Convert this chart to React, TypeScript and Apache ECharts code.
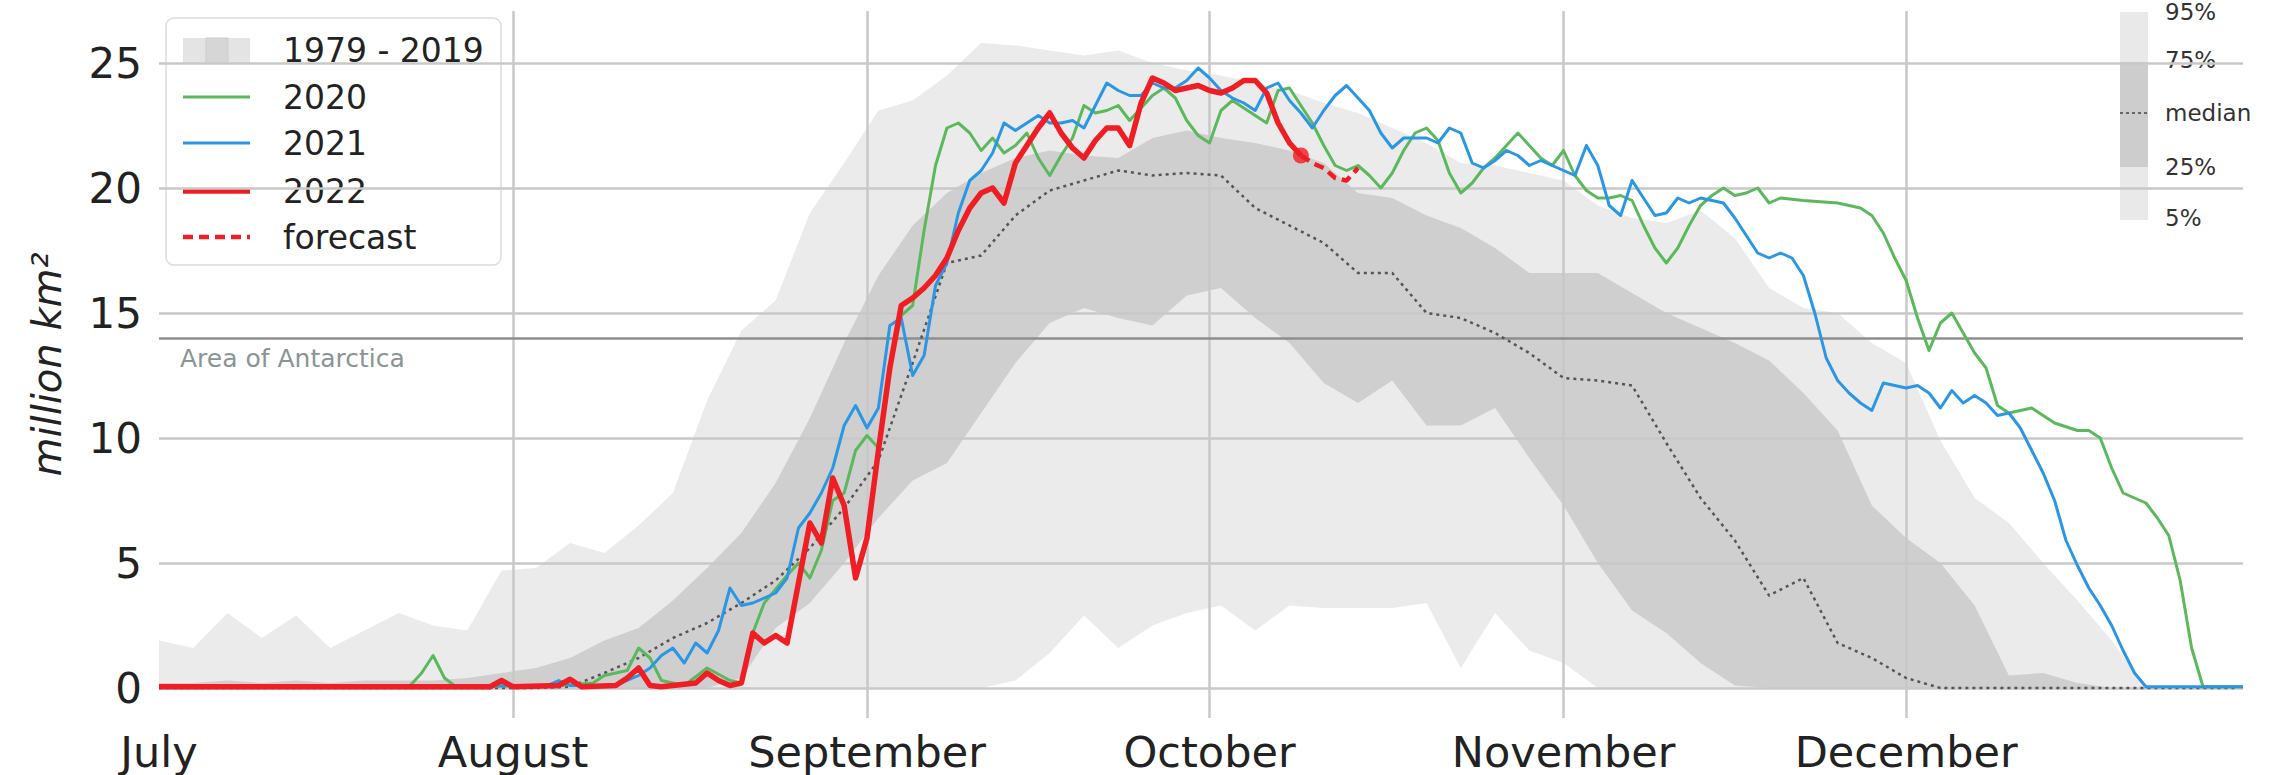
import React, { useEffect, useRef } from 'react';
import * as echarts from 'echarts';

const FONT = 'DejaVu Sans';

// ---- axis / labels ----
const monthNames = ['July', 'August', 'September', 'October', 'November', 'December'];
const monthStartDays = [0, 31, 62, 92, 123, 153];
const antarcticaArea = 14;
const legendLabels = ['1979 - 2019', '2020', '2021', '2022', 'forecast'];
const percentileLabels = ['95%', '75%', 'median', '25%', '5%'];

// ---- 1979-2019 climatology (day 0 = 1 July) ----
const bandDays = [0, 3, 6, 9, 12, 15, 18, 21, 24, 27, 30, 33, 36, 39, 42, 45, 48, 51, 54, 57, 60, 63, 66, 69, 72, 75, 78, 81, 84, 87, 90, 93, 96, 99, 102, 105, 108, 111, 114, 117, 120, 123, 126, 129, 132, 135, 138, 141, 144, 147, 150, 153, 156, 159, 162, 165, 168, 171, 174, 177, 180, 182];
const p95 = [1.9, 1.6, 3.0, 2.0, 2.9, 1.6, 2.3, 3.0, 2.5, 2.3,
  4.7, 4.8, 5.8, 5.4, 6.5, 7.8, 11.5, 14.3, 15.5, 19.0,
  21.0, 23.1, 23.5, 24.5, 25.8, 25.7, 25.5, 25.3, 25.5, 25.0,
  24.7, 24.5, 24.2, 23.9, 23.4, 23.0, 22.4, 21.8, 21.0, 20.9,
  20.6, 20.3, 19.3, 18.8, 18.6, 19.1, 18.0, 16.0, 15.2, 15.0,
  13.8, 13.0, 9.9, 7.6, 6.6, 5.0, 3.5, 1.9, 0, 0,
  0, 0];
const p75 = [0.2, 0.2, 0.3, 0.2, 0.3, 0.2, 0.3, 0.3, 0.3, 0.4,
  0.6, 0.8, 1.2, 1.9, 2.4, 3.5, 4.8, 6.2, 8.2, 10.8,
  13.8, 16.5, 18.5, 19.8, 20.6, 21.2, 21.5, 21.3, 21.2, 22.0,
  22.3, 22.0, 21.8, 21.5, 21.0, 19.8, 19.6, 18.9, 18.4, 17.6,
  16.6, 16.6, 16.6, 15.8, 15.0, 14.4, 13.8, 13.1, 11.8, 10.3,
  7.3, 6.0, 5.0, 3.3, 0.5, 0.6, 0.2, 0, 0, 0,
  0, 0];
const p25 = [0, 0, 0, 0, 0, 0, 0, 0, 0, 0,
  0, 0, 0, 0, 0, 0, 0, 0.4, 2.4, 3.4,
  5.0, 6.8, 8.3, 9.0, 11.0, 13.0, 14.6, 15.2, 14.8, 14.5,
  15.7, 16.0, 14.8, 13.8, 12.2, 11.4, 12.3, 10.5, 10.5, 11.2,
  9.2, 7.3, 5.0, 3.1, 2.2, 1.0, 0.1, 0, 0, 0,
  0, 0, 0, 0, 0, 0, 0, 0, 0, 0,
  0, 0];
const p5 = [0, 0, 0, 0, 0, 0, 0, 0, 0, 0,
  0, 0, 0, 0, 0, 0, 0, 0, 0, 0,
  0, 0, 0, 0, 0, 0.3, 1.4, 2.9, 1.6, 2.5,
  3.0, 3.3, 2.3, 3.3, 3.2, 3.2, 3.2, 3.4, 0.8, 3.0,
  1.5, 1.0, 0, 0, 0, 0, 0, 0, 0, 0,
  0, 0, 0, 0, 0, 0, 0, 0, 0, 0,
  0, 0];
const median = [0, 0, 0, 0, 0, 0, 0, 0, 0, 0,
  0, 0, 0.05, 0.6, 1.2, 2.0, 2.6, 3.4, 4.3, 5.6,
  7.2, 9.1, 13.0, 17.0, 17.3, 18.9, 19.9, 20.3, 20.7, 20.5,
  20.6, 20.5, 19.2, 18.5, 17.8, 16.6, 16.6, 15.0, 14.8, 14.2,
  13.4, 12.4, 12.3, 12.1, 9.8, 7.6, 5.9, 3.7, 4.4, 1.8,
  1.2, 0.4, 0, 0, 0, 0, 0, 0, 0, 0,
  0, 0];

// ---- 2020 ----
const days2020 = [0, 10, 20, 22, 23, 24, 25, 26, 35, 38,
  39, 41, 42, 43, 44, 46, 48, 50, 51, 52,
  53, 55, 56, 57, 58, 59, 60, 61, 62, 63,
  64, 65, 66, 67, 68, 69, 70, 71, 72, 73,
  74, 75, 76, 77, 78, 79, 80, 81, 82, 83,
  84, 85, 86, 87, 88, 89, 90, 91, 92, 93,
  94, 95, 96, 97, 98, 99, 100, 101, 102, 103,
  104, 105, 106, 107, 108, 109, 110, 111, 112, 113,
  114, 115, 116, 117, 118, 119, 120, 121, 122, 123,
  124, 125, 126, 127, 128, 129, 130, 131, 132, 133,
  134, 135, 136, 137, 138, 139, 140, 141, 142,
  144, 147, 149, 150, 151, 152, 153, 154, 155, 156,
  157, 158, 159, 160, 161, 162, 164, 166, 168, 169,
  170, 171, 172, 174, 175, 176, 177, 178, 179, 182.5];
const ext2020 = [0.05, 0.05, 0.05, 0.1, 0.6, 1.3, 0.4, 0.05, 0.1, 0.2,
  0.5, 0.7, 1.6, 1.2, 0.3, 0.1, 0.8, 0.3, 0.2, 2.2,
  3.4, 4.5, 5.0, 4.4, 5.5, 7.5, 7.8, 9.5, 10.1, 9.6,
  12.8, 14.9, 15.3, 18.3, 20.9, 22.4, 22.6, 22.2, 21.5, 22.0,
  21.4, 21.7, 22.2, 21.2, 20.5, 21.3, 22.0, 23.3, 23.0, 23.1,
  23.3, 22.7, 23.2, 23.7, 24.0, 23.6, 22.7, 22.1, 21.8, 23.1,
  23.5, 23.2, 22.9, 22.6, 23.9, 24.0, 23.3, 22.6, 21.7, 20.9,
  20.7, 20.9, 20.5, 20.0, 20.6, 21.5, 22.2, 22.4, 21.9, 20.6,
  19.8, 20.2, 20.8, 21.2, 21.7, 22.2, 21.7, 21.2, 20.9, 21.5,
  20.5, 19.9, 19.6, 19.6, 19.7, 19.5, 18.5, 17.6, 17.0, 17.6,
  18.5, 19.3, 19.7, 20.0, 19.7, 19.8, 20.0, 19.4, 19.6,
  19.5, 19.4, 19.2, 18.9, 18.2, 17.2, 16.3, 14.8, 13.5, 14.6,
  15.0, 14.2, 13.4, 12.8, 11.3, 11.0, 11.2, 10.6, 10.3, 10.3,
  10.0, 8.8, 7.8, 7.4, 6.8, 6.1, 4.3, 1.6, 0.05, 0.05];

// ---- 2021 ----
const days2021 = [0, 20, 34, 35, 36, 40, 42, 43, 44, 45,
  46, 47, 48, 49, 50, 51, 52, 53, 54, 55,
  56, 57, 58, 59, 60, 61, 62, 63, 64, 65,
  66, 67, 68, 69, 70, 71, 72, 73, 74, 75,
  76, 77, 78, 79, 80, 81, 82, 83, 84, 85,
  86, 87, 88, 89, 90, 91, 92, 93, 94, 95,
  96, 97, 98, 99, 100, 101, 102, 103, 104, 105,
  106, 107, 108, 109, 110, 111, 112, 113, 114, 115,
  116, 117, 118, 119, 120, 121, 122, 123, 124, 125,
  126, 127, 128, 129, 130, 131, 132, 133, 134, 135,
  136, 137, 138, 139, 140, 141, 142, 143, 144, 145,
  146, 147, 148, 149, 150, 151, 152, 153, 154, 155,
  156, 157, 158, 159, 160, 161, 162, 163, 164, 165,
  166, 167, 168, 169, 170, 171, 172, 173, 174, 182.5];
const ext2021 = [0.05, 0.05, 0.1, 0.3, 0.1, 0.1, 0.5, 0.8, 1.3, 1.6,
  1.0, 1.8, 1.4, 2.3, 4.0, 3.3, 3.4, 3.6, 3.8, 4.4,
  6.4, 7.0, 7.8, 8.8, 10.5, 11.3, 10.4, 11.2, 14.5, 14.8,
  12.5, 13.3, 16.1, 17.0, 19.0, 20.3, 20.7, 21.4, 22.6, 22.3,
  22.6, 22.9, 22.6, 22.6, 22.7, 22.4, 23.3, 24.2, 23.9, 23.7,
  23.7, 24.2, 24.0, 24.0, 24.3, 24.8, 24.4, 23.9, 23.6, 23.4,
  23.1, 24.0, 24.2, 23.5, 23.0, 22.4, 23.1, 23.7, 24.1, 23.6,
  23.1, 22.2, 21.6, 22.0, 22.0, 22.0, 21.8, 22.4, 22.2, 21.0,
  20.8, 21.1, 21.5, 21.3, 20.9, 21.1, 20.9, 20.7, 20.5, 21.7,
  20.9, 19.3, 18.9, 20.3, 19.6, 18.9, 19.0, 19.6, 19.4, 19.6,
  19.5, 19.4, 18.8, 18.1, 17.4, 17.2, 17.4, 17.2, 16.5, 15.0,
  13.2, 12.3, 11.8, 11.4, 11.1, 12.2, 12.1, 12.0, 12.1, 11.8,
  11.2, 11.9, 11.4, 11.7, 11.4, 10.9, 11.0, 10.4, 9.5, 8.6,
  7.5, 5.9, 4.9, 4.0, 3.3, 2.5, 1.5, 0.6, 0.05, 0.05];

// ---- 2022 ----
const days2022 = [0, 20, 29, 30, 31, 35, 36, 37, 40, 41,
  42, 43, 44, 47, 48, 49, 50, 51, 52, 53,
  54, 55, 56, 57, 58, 59, 60, 61, 62, 63,
  64, 65, 66, 67, 68, 69, 70, 71, 72, 73,
  74, 75, 76, 77, 78, 79, 80, 81, 82, 83,
  84, 85, 86, 87, 88, 89, 90, 91, 92, 93,
  94, 95, 96, 97, 98, 99, 100];
const ext2022 = [0.05, 0.05, 0.05, 0.3, 0.05, 0.1, 0.35, 0.05, 0.1, 0.4,
  0.8, 0.1, 0.05, 0.2, 0.6, 0.3, 0.1, 0.2, 2.2, 1.8,
  2.1, 1.8, 4.2, 6.6, 5.8, 8.4, 7.3, 4.4, 6.0, 9.5,
  12.8, 15.3, 15.6, 16.0, 16.5, 17.2, 18.3, 19.2, 19.8, 20.0,
  19.4, 21.0, 21.7, 22.4, 23.0, 22.2, 21.6, 21.2, 21.9, 22.4,
  22.4, 21.7, 23.4, 24.4, 24.2, 23.9, 24.0, 24.1, 23.9, 23.8,
  24.0, 24.3, 24.3, 23.8, 22.6, 21.8, 21.3];

// ---- forecast ----
const forecastDays = [100, 101, 102, 103, 104, 105];
const forecastVals = [21.3, 21.0, 20.8, 20.4, 20.3, 20.8];

const C_GREEN = '#5cb85c';
const C_BLUE = '#2b96e3';
const C_RED = '#ee1e24';
const C_LIGHT = '#ebebeb';
const C_DARK = '#cfcfcf';
const C_GRID = '#c8c8c8';

const zip = (xs: number[], ys: number[]) => xs.map((x, i) => [x, ys[i]]);

function bandSeries(name: string, vals: number[], color: string, extra: any = {}) {
  return {
    name,
    type: 'line',
    data: zip(bandDays, vals),
    showSymbol: false,
    symbol: 'none',
    silent: true,
    z: 0,
    lineStyle: { width: 0, opacity: 0 },
    areaStyle: { color, opacity: 1 },
    emphasis: { disabled: true },
    ...extra,
  };
}

function lineSeries(name: string, xs: number[], ys: number[], color: string, width: number, z: number, type: any = 'solid') {
  return {
    name,
    type: 'line',
    data: zip(xs, ys),
    showSymbol: false,
    symbol: 'none',
    silent: true,
    z,
    lineStyle: { color, width, type, cap: 'butt', join: 'round' },
    emphasis: { disabled: true },
  };
}

export default function App() {
  const ref = useRef<HTMLDivElement>(null);
  useEffect(() => {
    const chart = echarts.init(ref.current!, null, { renderer: 'svg' });

    const markLineData: any[] = monthStartDays.map((d, i) => ({
      xAxis: d,
      name: monthNames[i],
      lineStyle: i === 0 ? { color: 'rgba(0,0,0,0)' } : { color: C_GRID, width: 2.5, type: 'solid' },
    }));
    markLineData.push({
      yAxis: antarcticaArea,
      name: 'Area of Antarctica',
      lineStyle: { color: '#8e8e8e', width: 2.5, type: 'solid' },
      label: {
        show: true,
        position: 'insideStartBottom',
        formatter: '{b}',
        fontSize: 25,
        fontFamily: FONT,
        color: '#8a9494',
        distance: [21, 8],
      },
    });

    const legendX1 = 183, legendX2 = 250, legendTextX = 283;
    const legendRowsY = [50, 97, 143, 191, 237];
    const pctLabelY = [12, 60, 113, 167, 218];

    const graphics: any[] = [
      { type: 'rect', z: 0, silent: true, shape: { x: 166, y: 18, width: 335, height: 247, r: 8 }, style: { fill: 'rgba(255,255,255,0.8)', stroke: '#dcdcdc', lineWidth: 1.5 } },
      { type: 'rect', z: 0, silent: true, shape: { x: legendX1, y: 38, width: legendX2 - legendX1, height: 25 }, style: { fill: '#e4e4e4' } },
      { type: 'rect', z: 0, silent: true, shape: { x: 206, y: 38, width: 22, height: 25 }, style: { fill: '#d6d6d6', stroke: '#cccccc', lineWidth: 1 } },
      { type: 'line', z: 0, silent: true, shape: { x1: legendX1, y1: legendRowsY[1], x2: legendX2, y2: legendRowsY[1] }, style: { stroke: C_GREEN, lineWidth: 3 } },
      { type: 'line', z: 0, silent: true, shape: { x1: legendX1, y1: legendRowsY[2], x2: legendX2, y2: legendRowsY[2] }, style: { stroke: C_BLUE, lineWidth: 3 } },
      { type: 'line', z: 0, silent: true, shape: { x1: legendX1, y1: legendRowsY[3], x2: legendX2, y2: legendRowsY[3] }, style: { stroke: C_RED, lineWidth: 5.5 } },
      { type: 'line', z: 0, silent: true, shape: { x1: legendX1, y1: legendRowsY[4], x2: legendX2, y2: legendRowsY[4] }, style: { stroke: C_RED, lineWidth: 4.5, lineDash: [10, 6] } },
      ...legendLabels.map((t, i) => ({
        type: 'text', z: 0, silent: true, x: legendTextX, y: legendRowsY[i],
        style: { text: t, fontSize: 33, fontFamily: FONT, fill: '#222', align: 'left', verticalAlign: 'middle' },
      })),
      // percentile key
      { type: 'rect', z: 0, silent: true, shape: { x: 2120, y: 12, width: 28, height: 50 }, style: { fill: '#e9e9e9' } },
      { type: 'rect', z: 0, silent: true, shape: { x: 2120, y: 62, width: 28, height: 105 }, style: { fill: '#cdcdcd' } },
      { type: 'rect', z: 0, silent: true, shape: { x: 2120, y: 167, width: 28, height: 53 }, style: { fill: '#e9e9e9' } },
      { type: 'line', z: 0, silent: true, shape: { x1: 2120, y1: 113, x2: 2148, y2: 113 }, style: { stroke: '#666', lineWidth: 2, lineDash: [3, 3] } },
      ...percentileLabels.map((t, i) => ({
        type: 'text', z: 0, silent: true, x: 2165, y: pctLabelY[i],
        style: { text: t, fontSize: 23, fontFamily: FONT, fill: '#333', align: 'left', verticalAlign: 'middle' },
      })),
    ];

    const lastIdx = days2022.length - 1;

    chart.setOption({
      animation: false,
      backgroundColor: '#ffffff',
      grid: { left: 159, right: 47, top: 11, bottom: 57, containLabel: false },
      xAxis: {
        type: 'value', min: 0, max: 182.5, show: false,
      },
      yAxis: {
        type: 'value', min: -1.2, max: 27.08, minInterval: 5, maxInterval: 5, splitNumber: 5,
        z: 1,
        axisLine: { show: false },
        axisTick: { show: false },
        axisLabel: { fontSize: 42, fontFamily: FONT, color: '#222', margin: 17, showMinLabel: false, showMaxLabel: false },
        splitLine: { show: true, showMinLine: false, showMaxLine: false, lineStyle: { color: C_GRID, width: 2.5 } },
        name: 'million km²',
        nameLocation: 'middle',
        nameGap: 92,
        nameTextStyle: { fontSize: 40, fontStyle: 'italic', fontFamily: FONT, color: '#222' },
      },
      graphic: graphics,
      series: [
        bandSeries('p95', p95, C_LIGHT),
        bandSeries('p75', p75, C_DARK),
        bandSeries('p25', p25, C_LIGHT),
        bandSeries('p5', p5, '#ffffff', {
          markLine: {
            silent: true,
            z: 1,
            symbol: ['none', 'none'],
            animation: false,
            emphasis: { disabled: true },
            label: { show: true, position: 'start', formatter: '{b}', fontSize: 43, fontFamily: FONT, color: '#222', distance: 12 },
            data: markLineData,
          },
        }),
        lineSeries('median', bandDays, median, '#555555', 2.5, 2, [3, 4]),
        lineSeries('2020', days2020, ext2020, C_GREEN, 3, 3),
        lineSeries('2021', days2021, ext2021, C_BLUE, 3, 3),
        lineSeries('2022', days2022, ext2022, C_RED, 5.5, 4),
        lineSeries('forecast', forecastDays, forecastVals, C_RED, 4.5, 4, [10, 6]),
        {
          name: 'latest', type: 'scatter', silent: true, z: 5,
          data: [[days2022[lastIdx], ext2022[lastIdx]]],
          symbolSize: 16, itemStyle: { color: C_RED },
          emphasis: { disabled: true },
        },
      ],
    });
    return () => chart.dispose();
  }, []);
  return <div ref={ref} style={{ position: 'fixed', left: 0, top: 0, width: 2290, height: 775 }} />;
}
